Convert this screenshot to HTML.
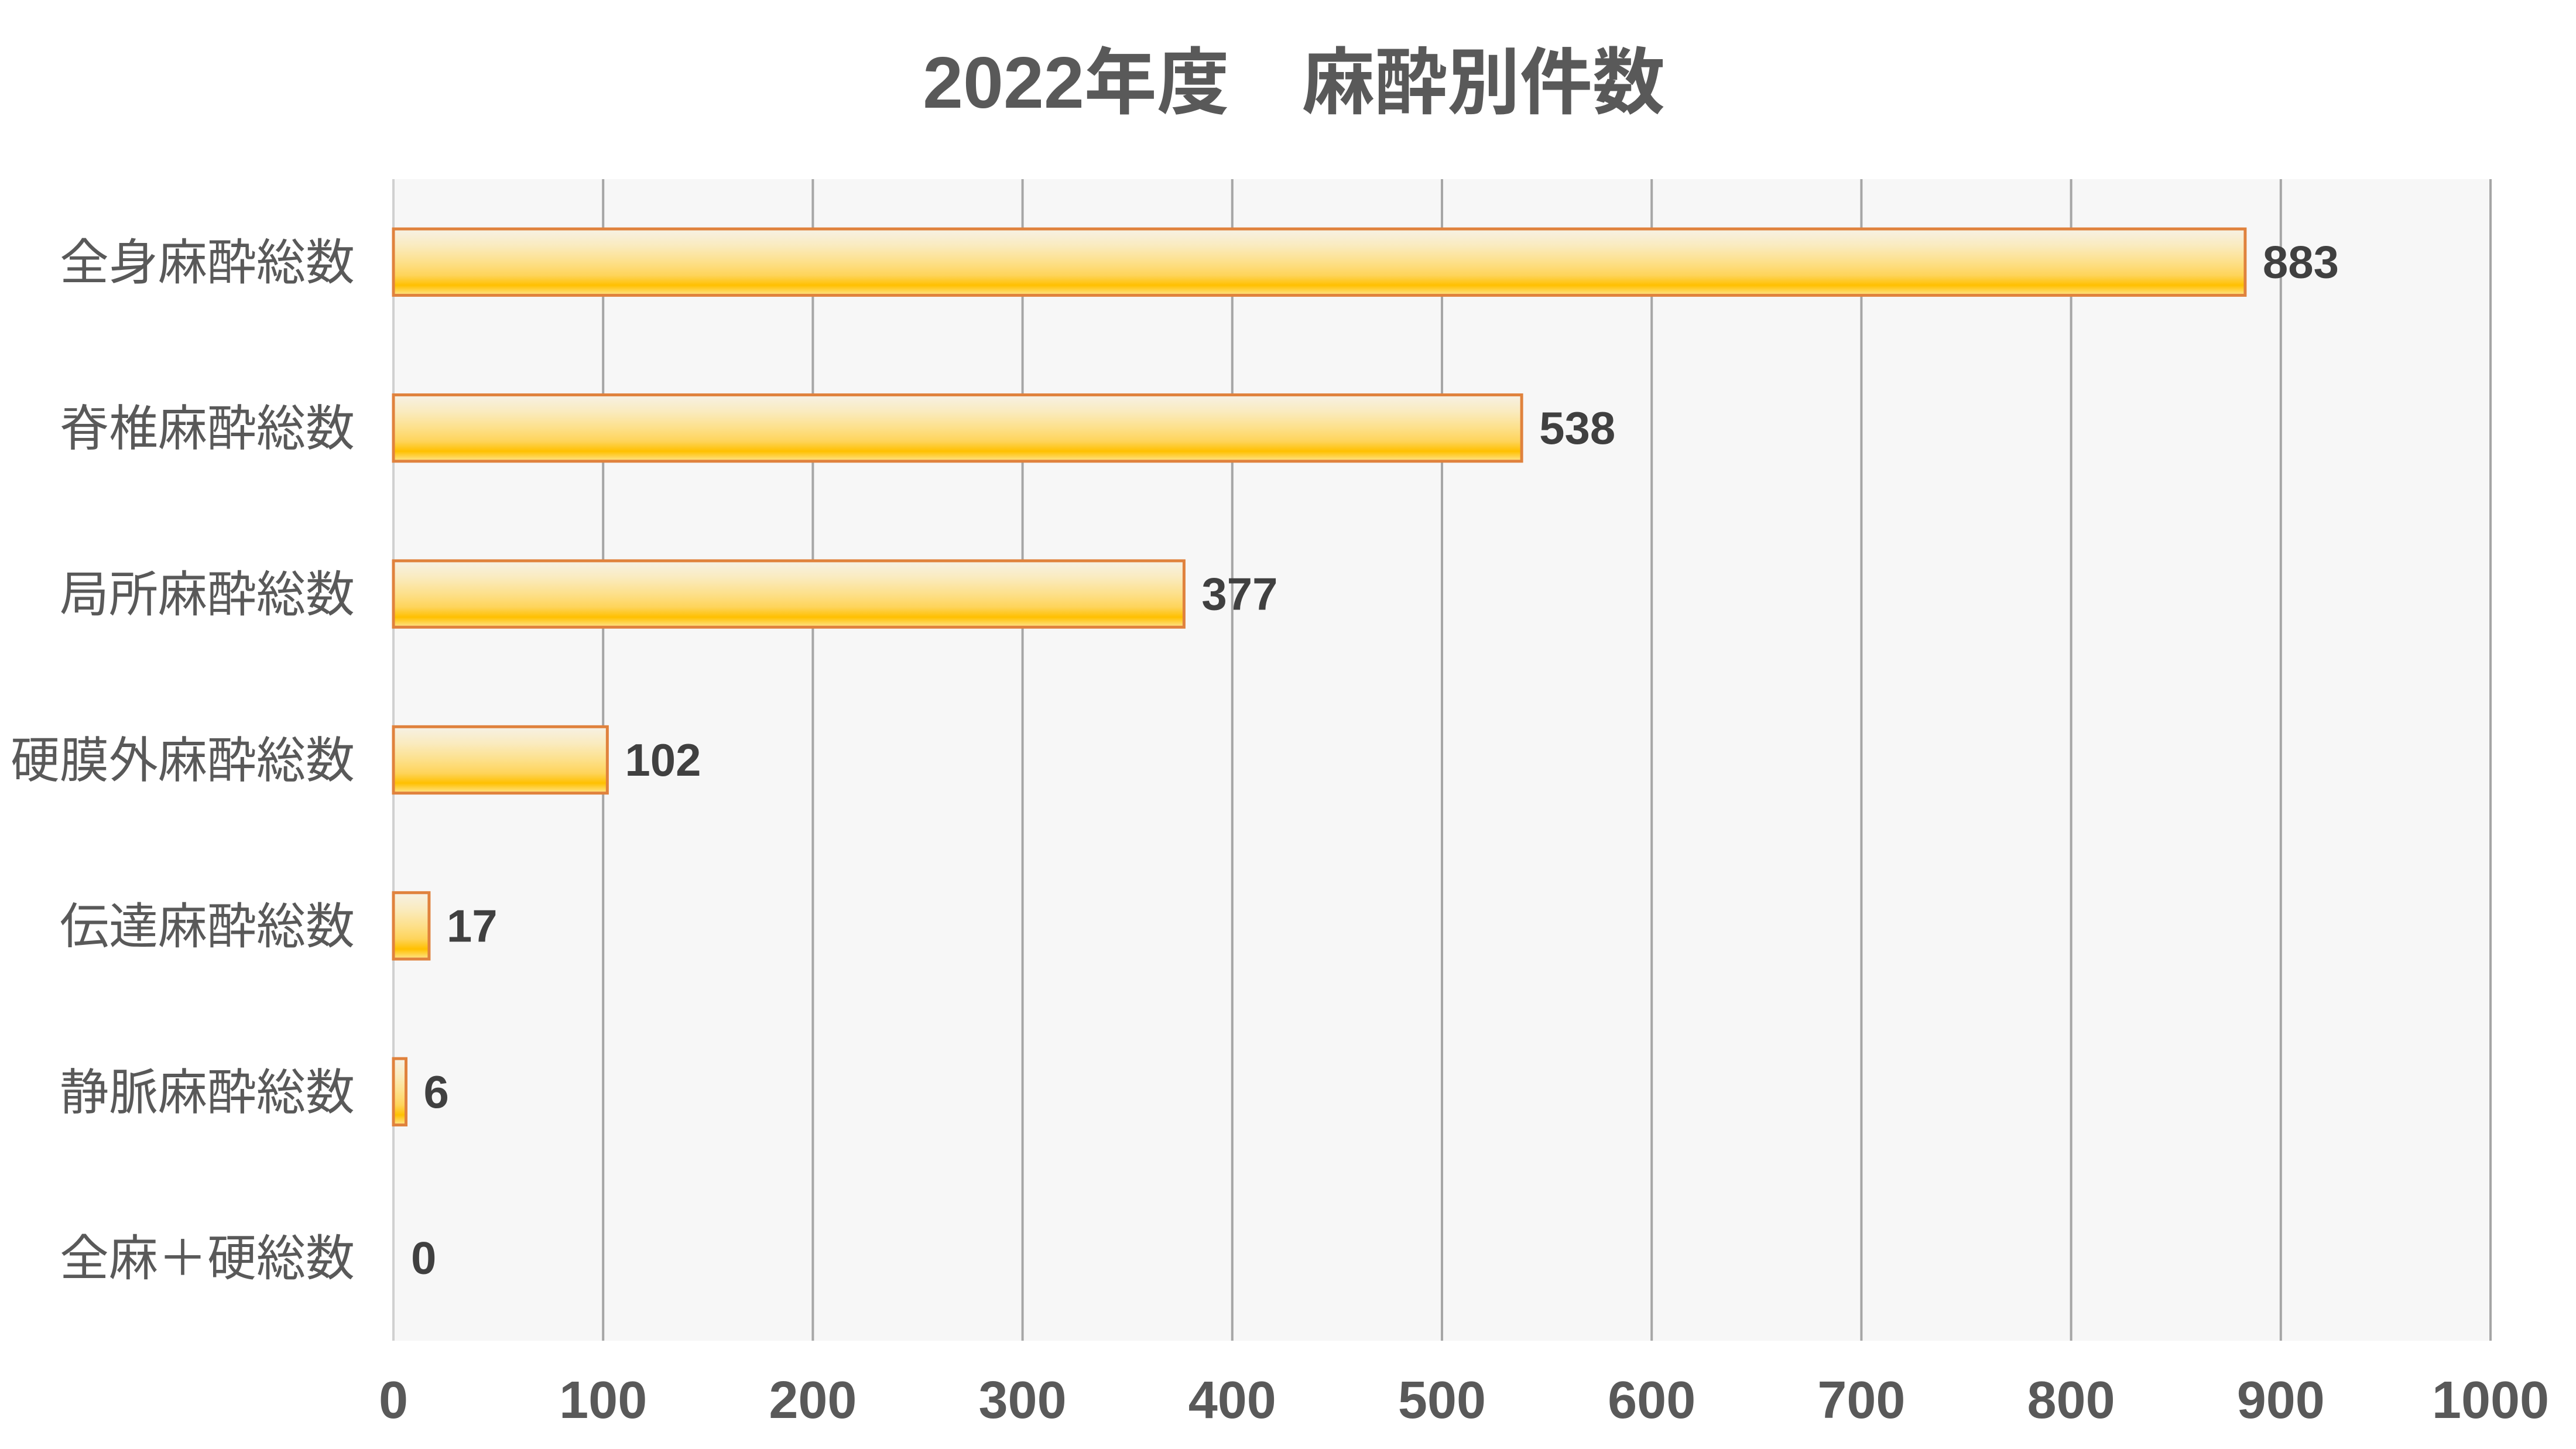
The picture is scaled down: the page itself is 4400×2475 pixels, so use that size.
<!DOCTYPE html>
<html><head><meta charset="utf-8">
<style>
html,body{margin:0;padding:0;background:#fff;}
svg{display:block;}
text{font-family:"Liberation Sans","Noto Sans CJK JP",sans-serif;}
</style></head>
<body>
<svg id="chart" width="4400" height="2475" viewBox="0 0 4400 2475" xmlns="http://www.w3.org/2000/svg">
<defs>
<linearGradient id="barGrad" x1="0" y1="0" x2="0" y2="1">
<stop offset="0" stop-color="#f6f1e6"/>
<stop offset="0.25" stop-color="#faebbf"/>
<stop offset="0.5" stop-color="#fde08a"/>
<stop offset="0.7" stop-color="#fed45a"/>
<stop offset="0.85" stop-color="#ffc000"/>
<stop offset="1" stop-color="#ffe58f"/>
</linearGradient>
</defs>
<text x="2210" y="184" text-anchor="middle" font-size="124" font-weight="bold" fill="#595959">2022年度　麻酔別件数</text>
<rect x="672" y="306" width="3582" height="1984" fill="#f7f7f7"/>
<g id="grid"></g>
<g id="bars"></g>
<g id="labels"></g>
</svg>
<script>
const categories = ["全身麻酔総数","脊椎麻酔総数","局所麻酔総数","硬膜外麻酔総数","伝達麻酔総数","静脈麻酔総数","全麻＋硬総数"];
const values = [883, 538, 377, 102, 17, 6, 0];
const ticks = [0,100,200,300,400,500,600,700,800,900,1000];

const NS = "http://www.w3.org/2000/svg";
const X0 = 672, X1 = 4254, XMAX = 1000;
const Y0 = 306, Y1 = 2290;
const xScale = v => X0 + (v / XMAX) * (X1 - X0);
const band = (Y1 - Y0) / categories.length;
const yCenter = i => Y0 + band * (i + 0.5);
const barH = band * 0.40;

const grid = document.getElementById('grid');
const bars = document.getElementById('bars');
const labels = document.getElementById('labels');
function mk(tag, attrs, parent) {
  const e = document.createElementNS(NS, tag);
  for (const k in attrs) e.setAttribute(k, attrs[k]);
  parent.appendChild(e);
  return e;
}
ticks.forEach((t, i) => {
  const x = xScale(t);
  const l = mk('line', {x1: x, x2: x, y1: Y0, y2: Y1, stroke: i === 0 ? '#d0d0d0' : '#a6a6a6', 'stroke-width': 4}, grid);
  
  
  const tx = mk('text', {x: x, y: 2422, 'text-anchor': 'middle', 'font-size': 90, fill: '#595959', 'font-weight': '600'}, labels);
  tx.textContent = t;
  
  
});
categories.forEach((c, i) => {
  const cy = yCenter(i);
  const cl = mk('text', {x: 606, y: cy + 30, 'text-anchor': 'end', 'font-size': 84, fill: '#595959'}, labels);
  cl.textContent = c;
  
  
  const v = values[i];
  const w = xScale(v) - X0;
  if (v > 0) {
    const r = mk('rect', {x: X0, y: cy - barH / 2, width: w, height: barH, fill: 'url(#barGrad)', stroke: '#e0823d', 'stroke-width': 5}, bars);
    
    
  }
  const vl = mk('text', {x: xScale(v) + 30, y: cy + 27, 'font-size': 78, 'font-weight': 'bold', fill: '#404040'}, labels);
  vl.textContent = v;
  
  
});
</script>
</body></html>
